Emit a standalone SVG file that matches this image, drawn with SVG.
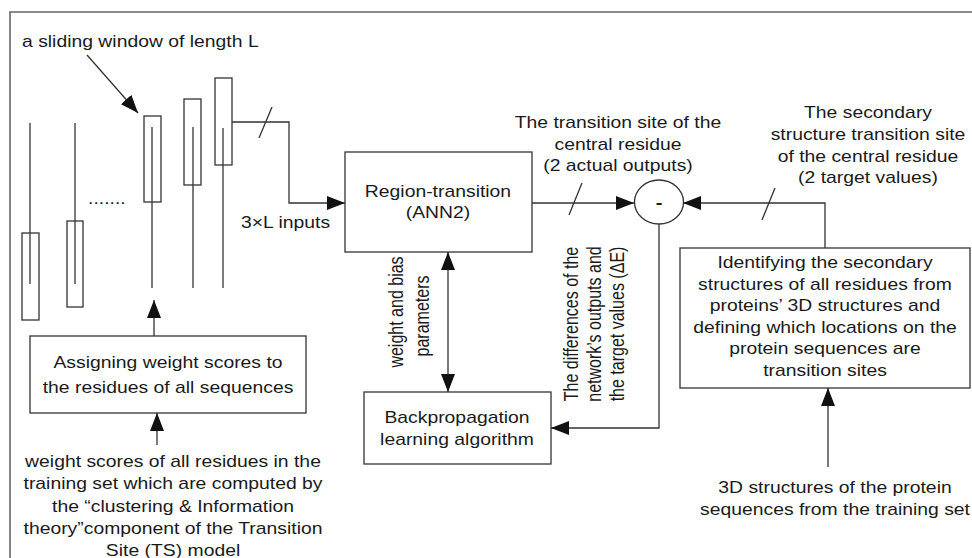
<svg xmlns="http://www.w3.org/2000/svg" width="972" height="558" viewBox="0 0 972 558">
<defs>
<style>
.t{font-family:"Liberation Sans",Arial,Helvetica,sans-serif;font-size:16px;fill:#1a1a1a}
.m{text-anchor:middle}
.box{fill:none;stroke:#333;stroke-width:1.3}
.ln{fill:none;stroke:#333;stroke-width:1.3}
.ar{marker-end:url(#ah)}
.frame{fill:none;stroke:#666;stroke-width:1.6}
</style>
<marker id="ah" markerUnits="userSpaceOnUse" markerWidth="18" markerHeight="14" refX="18" refY="7" orient="auto-start-reverse" viewBox="0 0 18 14"><path d="M0,0 L18,7 L0,14 z" fill="#111"/></marker>
</defs>
<rect width="972" height="558" fill="#fff"/>
<path class="frame" d="M10,560 V12 H974"/>

<g id="window-label">
<text class="t" transform="translate(22,47) scale(1.21,1)">a sliding window of length L</text>
</g>

<g id="sequences">
<line class="ln" x1="30" y1="123" x2="30" y2="284"/>
<rect class="box" x="22" y="233" width="17" height="87"/>
<line class="ln" x1="75" y1="123" x2="75" y2="284"/>
<rect class="box" x="67" y="221" width="16" height="86"/>
<text class="t" transform="translate(88,204) scale(1.21,1)">.......</text>
<rect class="box" x="144" y="116" width="17" height="86"/>
<line class="ln" x1="152" y1="127" x2="152" y2="288"/>
<rect class="box" x="184" y="99" width="17" height="86"/>
<line class="ln" x1="193" y1="127" x2="193" y2="288"/>
<rect class="box" x="215" y="78" width="17" height="87"/>
<line class="ln" x1="223" y1="128" x2="223" y2="288"/>
</g>

<g id="inputs-label">
<text class="t" transform="translate(241,228) scale(1.21,1)">3×L inputs</text>
</g>

<g id="region-transition">
<rect class="box" x="345" y="152" width="187" height="100"/>
<text class="t m" transform="translate(438,197) scale(1.21,1)">Region-transition</text>
<text class="t m" transform="translate(438,218) scale(1.21,1)">(ANN2)</text>
</g>

<g id="backpropagation">
<rect class="box" x="364" y="392" width="187" height="72"/>
<text class="t m" transform="translate(457,423) scale(1.21,1)">Backpropagation</text>
<text class="t m" transform="translate(457,445) scale(1.21,1)">learning algorithm</text>
</g>

<g id="difference">
<ellipse class="box" cx="659" cy="202" rx="24.5" ry="22"/>
<text class="t m" font-weight="bold" font-size="17" transform="translate(659,208) scale(1.25,1)">-</text>
</g>

<g id="assigning">
<rect class="box" x="30" y="336" width="276" height="77"/>
<text class="t m" transform="translate(168,368) scale(1.21,1)">Assigning weight scores to</text>
<text class="t m" transform="translate(168,393) scale(1.21,1)">the residues of all sequences</text>
</g>

<g id="weight-scores">
<text class="t m" transform="translate(173,467) scale(1.21,1)">weight scores of all residues in the</text>
<text class="t m" transform="translate(173,489) scale(1.21,1)">training set which are computed by</text>
<text class="t m" transform="translate(173,511.5) scale(1.21,1)">the “clustering &amp; Information</text>
<text class="t m" transform="translate(173,534) scale(1.21,1)">theory”component of the Transition</text>
<text class="t m" transform="translate(173,556) scale(1.21,1)">Site (TS) model</text>
</g>

<g id="identifying">
<rect class="box" x="680" y="248" width="290" height="140"/>
<text class="t m" transform="translate(825,268) scale(1.21,1)">Identifying the secondary</text>
<text class="t m" transform="translate(825,290) scale(1.21,1)">structures of all residues from</text>
<text class="t m" transform="translate(825,311) scale(1.21,1)">proteins’ 3D structures and</text>
<text class="t m" transform="translate(825,333) scale(1.21,1)">defining which locations on the</text>
<text class="t m" transform="translate(825,354) scale(1.21,1)">protein sequences are</text>
<text class="t m" transform="translate(825,376) scale(1.21,1)">transition sites</text>
</g>

<g id="structures-3d">
<text class="t m" transform="translate(835,493) scale(1.21,1)">3D structures of the protein</text>
<text class="t m" transform="translate(835,515) scale(1.21,1)">sequences from the training set</text>
</g>

<g id="connectors">
<path class="ln ar" d="M87,55 L138,113"/>
<path class="ln ar" d="M232,122 H289 V203 H345"/>
<path class="ln" d="M272,107 L259,138"/>
<path class="ln ar" d="M532,203 H634"/>
<path class="ln" d="M582,183 L569,215"/>
<path class="ln ar" d="M825,248 V203 H683"/>
<path class="ln" d="M775,188 L762,220"/>
<path class="ln ar" d="M659,224 V428 H551"/>
<path class="ln ar" d="M448,252 V392" marker-start="url(#ah)"/>
<path class="ln ar" d="M154,336 V300"/>
<path class="ln ar" d="M157,445 V413"/>
<path class="ln ar" d="M828,467 V388"/>
</g>

<g id="connector-labels">
<text class="t m" transform="translate(618,128) scale(1.21,1)">The transition site of the</text>
<text class="t m" transform="translate(618,150) scale(1.21,1)">central residue</text>
<text class="t m" transform="translate(618,171) scale(1.21,1)">(2 actual outputs)</text>
<text class="t m" transform="translate(868,118) scale(1.21,1)">The secondary</text>
<text class="t m" transform="translate(868,140) scale(1.21,1)">structure transition site</text>
<text class="t m" transform="translate(868,162) scale(1.21,1)">of the central residue</text>
<text class="t m" transform="translate(868,183) scale(1.21,1)">(2 target values)</text>
<text class="t m" font-size="15" transform="translate(403,312) scale(1.25,1) rotate(-90)">weight and bias</text>
<text class="t m" font-size="15" transform="translate(429,316) scale(1.25,1) rotate(-90)">parameters</text>
<text class="t m" transform="translate(578,324) scale(1.25,1) rotate(-90)">The differences of the</text>
<text class="t m" transform="translate(601,324) scale(1.25,1) rotate(-90)">network’s outputs and</text>
<text class="t m" transform="translate(624,324) scale(1.25,1) rotate(-90)">the target values (ΔE)</text>
</g>
</svg>
